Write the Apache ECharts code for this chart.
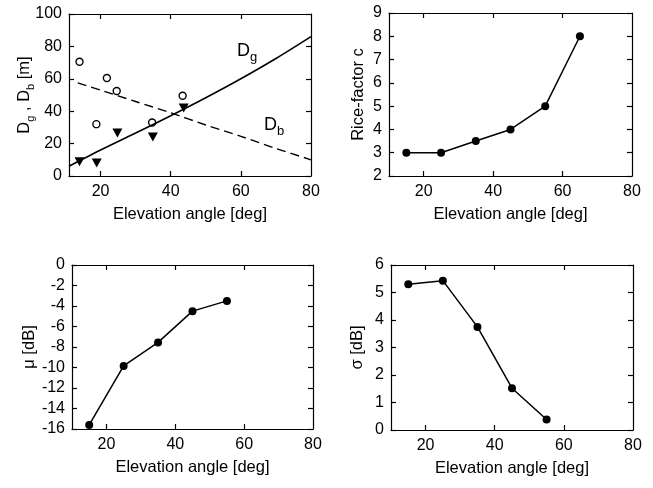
<!DOCTYPE html>
<html><head><meta charset="utf-8">
<script src="https://cdn.jsdelivr.net/npm/echarts@6/dist/echarts.min.js"></script>
<style>html,body{margin:0;padding:0;background:#fff}#c{width:653px;height:488px}</style>
</head><body><div id="c"></div>
<script>
// ---- data ----
const xTickLabels = [20, 40, 60, 80];
const xTickMarks = [20, 40, 60];
// panel 1: D_g, D_b
const dbMeasAngles = [14, 18.8, 21.8, 24.6, 34.7, 43.4];
const dbMeas = [70.5, 32, 60.5, 52.5, 33, 49.5];
const dgMeasAngles = [14, 18.9, 24.8, 34.9, 43.7];
const dgMeas = [8.8, 8, 26.5, 24, 42];
const dgCurveAngles = [11, 20, 30, 40, 50, 60, 70, 80];
const dgCurve = [6, 16, 26.5, 37.2, 48.3, 60, 72.5, 86];
const dbCurveAngles = [13.5, 20, 30, 40, 50, 60, 70, 80];
const dbCurve = [57.5, 53, 46, 39, 31.5, 24.5, 17, 10];
// panel 2: Rice factor
const riceAngles = [15, 25, 35, 45, 55, 65];
const riceC = [3, 3, 3.5, 4, 5, 8];
// panel 3: mu
const muAngles = [15, 25, 35, 45, 55];
const muDb = [-15.6, -9.85, -7.55, -4.5, -3.5];
// panel 4: sigma
const sigmaAngles = [15, 25, 35, 45, 55];
const sigmaDb = [5.3, 5.43, 3.75, 1.52, 0.38];

const zip = (xs, ys) => xs.map((x, i) => [x, ys[i]]);
const FONT = "'Liberation Sans', Arial, Helvetica, sans-serif";
const BLACK = '#000';

const grids = [
  {left: 69, top: 14, width: 242, height: 162},
  {left: 389, top: 13, width: 243, height: 163},
  {left: 72, top: 265, width: 241, height: 164},
  {left: 391, top: 265, width: 242, height: 165}
];
const xMins = [11, 10, 10, 10];
const yCfg = [
  {min: 0, max: 100, interval: 20, name: '{n|D}{s|g}{n| , D}{s|b}{n| [m]}', gap: 33, move: false},
  {min: 2, max: 9, interval: 1, name: '{n|Rice-factor c}', gap: 19, move: true},
  {min: -16, max: 0, interval: 2, name: '{n|\u03bc [dB]}', gap: 30, move: true},
  {min: 0, max: 6, interval: 1, name: '{n|\u03c3 [dB]}', gap: 22, move: true}
];
const axisLine = {show: true, onZero: false, lineStyle: {color: BLACK, width: 1.2}};
const nameRich = {
  n: {fontSize: 16.5, fontFamily: FONT, color: BLACK, lineHeight: 20, verticalAlign: 'top'},
  s: {fontSize: 11, fontFamily: FONT, color: BLACK, lineHeight: 10, verticalAlign: 'bottom'}
};

const xAxis = [], yAxis = [];
grids.forEach((g, i) => {
  xAxis.push({
    type: 'value', gridIndex: i, min: xMins[i], max: 80, position: 'bottom',
    name: 'Elevation angle [deg]', nameLocation: 'middle', nameGap: 30,
    nameTextStyle: {fontSize: 16.5, fontFamily: FONT, color: BLACK},
    axisLine, splitLine: {show: false},
    axisTick: {show: true, inside: true, length: 5, customValues: xTickMarks, lineStyle: {color: BLACK, width: 1.2}},
    axisLabel: {show: true, margin: 8, fontSize: 16, fontFamily: FONT, color: BLACK, customValues: xTickLabels}
  });
  xAxis.push({
    type: 'value', gridIndex: i, min: xMins[i], max: 80, position: 'top',
    axisLine, splitLine: {show: false},
    axisTick: {show: true, inside: true, length: 5, customValues: xTickMarks, lineStyle: {color: BLACK, width: 1.2}},
    axisLabel: {show: false}
  });
  const c = yCfg[i];
  yAxis.push({
    type: 'value', gridIndex: i, min: c.min, max: c.max, interval: c.interval, position: 'left',
    name: c.name, nameLocation: 'middle', nameGap: c.gap, nameMoveOverlap: c.move,
    nameTextStyle: {rich: nameRich},
    axisLine, splitLine: {show: false},
    axisTick: {show: true, inside: true, length: 5, lineStyle: {color: BLACK, width: 1.2}},
    axisLabel: {show: true, margin: 7, fontSize: 16, fontFamily: FONT, color: BLACK}
  });
  yAxis.push({
    type: 'value', gridIndex: i, min: c.min, max: c.max, interval: c.interval, position: 'right',
    axisLine, splitLine: {show: false},
    axisTick: {show: true, inside: true, length: 5, lineStyle: {color: BLACK, width: 1.2}},
    axisLabel: {show: false}
  });
});

const lineSeries = (gi, data) => ({
  type: 'line', xAxisIndex: gi * 2, yAxisIndex: gi * 2, data,
  symbol: 'circle', symbolSize: 8, itemStyle: {color: BLACK, opacity: 1},
  lineStyle: {color: BLACK, width: 1.5}, animation: false
});

const series = [
  {type: 'line', xAxisIndex: 0, yAxisIndex: 0, data: zip(dgCurveAngles, dgCurve), showSymbol: false,
   smooth: 0.3, lineStyle: {color: BLACK, width: 1.6}, animation: false},
  {type: 'line', xAxisIndex: 0, yAxisIndex: 0, data: zip(dbCurveAngles, dbCurve), showSymbol: false,
   smooth: 0.3, lineStyle: {color: BLACK, width: 1.4, type: [9, 5]}, animation: false},
  {type: 'scatter', xAxisIndex: 0, yAxisIndex: 0, data: zip(dbMeasAngles, dbMeas), symbol: 'circle', symbolSize: 7,
   itemStyle: {color: '#fff', borderColor: BLACK, borderWidth: 1.4, opacity: 1}, animation: false},
  {type: 'scatter', xAxisIndex: 0, yAxisIndex: 0, data: zip(dgMeasAngles, dgMeas), symbol: 'triangle', symbolRotate: 180,
   symbolSize: [10, 9], itemStyle: {color: BLACK, opacity: 1}, animation: false},
  lineSeries(1, zip(riceAngles, riceC)),
  lineSeries(2, zip(muAngles, muDb)),
  lineSeries(3, zip(sigmaAngles, sigmaDb))
];

const labelRich = {
  n: {fontSize: 18, fontFamily: FONT, fill: BLACK, color: BLACK, lineHeight: 22, verticalAlign: 'top'},
  s: {fontSize: 13, fontFamily: FONT, fill: BLACK, color: BLACK, lineHeight: 12, verticalAlign: 'bottom'}
};

const chart = echarts.init(document.getElementById('c'), null, {renderer: 'canvas'});
chart.setOption({
  backgroundColor: '#fff',
  animation: false,
  grid: grids,
  xAxis, yAxis, series,
  graphic: [
    {type: 'text', left: 237, top: 42, style: {text: '{n|D}{s|g}', rich: labelRich}},
    {type: 'text', left: 264, top: 116, style: {text: '{n|D}{s|b}', rich: labelRich}}
  ]
});
</script></body></html>
